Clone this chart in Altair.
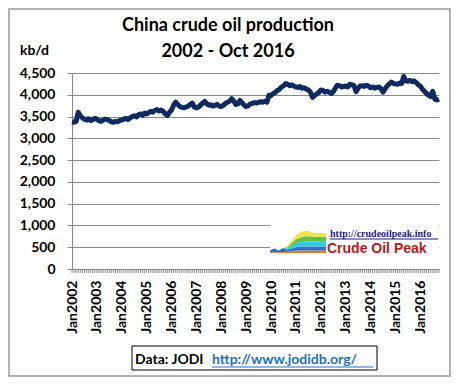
import altair as alt
import pandas as pd

# ---------------- data (kb/d, monthly) ----------------
p2002 = [3380, 3370, 3390, 3600, 3520, 3470, 3440, 3420, 3450, 3410, 3430, 3460]
p2003 = [3440, 3400, 3390, 3420, 3440, 3430, 3410, 3380, 3370, 3390, 3380, 3410]
p2004 = [3420, 3440, 3460, 3430, 3470, 3500, 3520, 3490, 3540, 3560, 3530, 3580]
p2005 = [3560, 3590, 3620, 3600, 3640, 3660, 3630, 3650, 3620, 3560, 3520, 3600]
p2006 = [3650, 3760, 3830, 3780, 3730, 3710, 3700, 3720, 3740, 3780, 3810, 3720]
p2007 = [3700, 3720, 3760, 3810, 3850, 3790, 3760, 3770, 3740, 3760, 3780, 3740]
p2008 = [3730, 3760, 3800, 3830, 3850, 3910, 3860, 3780, 3790, 3870, 3820, 3760]
p2009 = [3730, 3750, 3790, 3800, 3820, 3810, 3830, 3840, 3830, 3850, 3830, 3990]
p2010 = [3980, 4030, 4050, 4100, 4120, 4180, 4200, 4260, 4240, 4210, 4230, 4200]
p2011 = [4180, 4170, 4190, 4150, 4160, 4130, 4110, 4060, 3940, 3980, 4020, 4050]
p2012 = [4110, 4100, 4060, 4080, 4060, 4030, 4070, 4150, 4220, 4210, 4180, 4190]
p2013 = [4200, 4180, 4240, 4230, 4210, 4070, 4150, 4200, 4210, 4190, 4220, 4200]
p2014 = [4160, 4180, 4150, 4170, 4180, 4140, 4060, 4140, 4200, 4250, 4290, 4260]
p2015 = [4250, 4240, 4270, 4260, 4420, 4320, 4310, 4330, 4300, 4320, 4280, 4230]
p2016 = [4200, 4130, 4080, 4030, 3990, 3960, 4080, 3900, 3880, 3900]

first_year = 2002
y_ticks = [0, 500, 1000, 1500, 2000, 2500, 3000, 3500, 4000, 4500]

# small logo graphic (stacked bands, bottom to top)
logo_bands = ["orange", "blue", "cyan", "green", "yellow"]
logo_colors = ["#e07b22", "#2e6fcf", "#35c9e0", "#5cc24a", "#f2e640"]
logo_orange = [0.5, 0.5, 0.5, 0.8, 1.0, 1.5, 2.0, 2.0, 2.0, 2.0, 2.0, 2.0, 2.0, 2.0]
logo_blue = [1.5, 3.0, 1.5, 3.0, 1.5, 2.0, 2.5, 3.0, 3.0, 3.0, 3.0, 3.0, 3.0, 3.0]
logo_cyan = [0.0, 0.0, 0.0, 0.0, 1.0, 2.0, 3.0, 3.5, 4.0, 4.0, 4.0, 4.0, 4.0, 4.0]
logo_green = [0.0, 0.0, 0.0, 0.0, 1.0, 2.0, 3.0, 3.5, 4.0, 4.0, 3.5, 3.5, 3.5, 3.5]
logo_yellow = [0.0, 0.0, 0.0, 0.0, 1.0, 2.0, 3.0, 4.0, 4.0, 4.0, 3.0, 3.0, 3.0, 2.5]

# ---------------- frames ----------------
production = (p2002 + p2003 + p2004 + p2005 + p2006 + p2007 + p2008 + p2009 +
              p2010 + p2011 + p2012 + p2013 + p2014 + p2015 + p2016)
df = pd.DataFrame({"m": list(range(len(production))), "kbd": production})
last_m = len(production) - 1

logo_rows = []
for i, (name, arr) in enumerate(zip(logo_bands,
                                     [logo_orange, logo_blue, logo_cyan, logo_green, logo_yellow])):
    for j, v in enumerate(arr):
        logo_rows.append({"band": name, "ord": i, "i": j, "v": v})
logo_df = pd.DataFrame(logo_rows)

one = pd.DataFrame({"a": [0]})

W, H = 367, 196
FONT = "Lato"
GRID = "#8a8a8a"

xscale = alt.Scale(domain=[0, last_m], nice=False, zero=False)
yscale = alt.Scale(domain=[0, 4500], nice=False)

x_axis = alt.Axis(values=list(range(0, last_m + 1, 12)),
                  labelExpr=f"'Jan' + ({first_year} + datum.value / 12)",
                  labelAngle=270, labelAlign="right", labelBaseline="middle",
                  labelFont=FONT, labelFontSize=14, labelFontWeight="bold",
                  labelColor="#000000", labelPadding=11,
                  ticks=False, tickSize=0, grid=False, domainColor=GRID,
                  title=None, labelOverlap=False, labelBound=False, labelFlush=False)

line = alt.Chart(df).mark_line(color="#0f2a62", strokeWidth=5, strokeJoin="round").encode(
    x=alt.X("m:Q", scale=xscale, axis=x_axis),
    y=alt.Y("kbd:Q", scale=yscale,
            axis=alt.Axis(values=y_ticks, format=",d", grid=True, gridColor=GRID,
                          gridWidth=1, tickColor=GRID, tickSize=5, domainColor=GRID,
                          labelFont=FONT, labelFontSize=14, labelFontWeight="bold",
                          labelColor="#000000", labelPadding=12, title=None)),
)

month_ticks = alt.Chart(df).mark_rule(color=GRID, strokeWidth=1).encode(
    x=alt.X("m:Q", scale=xscale, axis=x_axis),
    y=alt.value(H),
    y2=alt.value(H + 4),
)

main = alt.layer(line, month_ticks)

border = alt.Chart(one).mark_rect(filled=False, stroke="#9a9a9a", strokeWidth=1.5).encode(
    x=alt.value(-63), x2=alt.value(378), y=alt.value(-64), y2=alt.value(303))

white = alt.Chart(one).mark_rect(color="white").encode(
    x=alt.value(198), x2=alt.value(367), y=alt.value(150), y2=alt.value(182))

logo = alt.Chart(logo_df).mark_area(strokeWidth=0).encode(
    x=alt.X("i:Q", scale=alt.Scale(domain=[0, 13], range=[198, 254], nice=False, zero=False), axis=None),
    y=alt.Y("v:Q", stack="zero", scale=alt.Scale(domain=[0, 17], range=[180, 158], nice=False), axis=None),
    color=alt.Color("band:N", scale=alt.Scale(domain=logo_bands, range=logo_colors), legend=None),
    order=alt.Order("ord:Q"),
)


def txt(s, x, y, size=14, color="#000000", font=FONT, align="left", weight="bold"):
    return alt.Chart(one).mark_text(text=s, font=font, fontSize=size, fontWeight=weight,
                                    color=color, align=align, baseline="alphabetic").encode(
        x=alt.value(x), y=alt.value(y))


title1 = txt("China crude oil production", 156, -42, size=18, align="center")
title2 = txt("2002 - Oct 2016", 156, -16, size=18, align="center")
unit = txt("kb/d", -52, -18, size=14)

logo_url = txt("http://crudeoilpeak.info", 258, 164, size=10, color="#1c1c8a",
               font="Liberation Serif")
logo_url_ul = alt.Chart(one).mark_rule(color="#1c1c8a", strokeWidth=1).encode(
    x=alt.value(258), x2=alt.value(366), y=alt.value(166))
logo_name = txt("Crude Oil Peak", 255, 180, size=14, color="#c0161c", font="Liberation Sans")

box = alt.Chart(one).mark_rect(filled=False, stroke="#000000", strokeWidth=1).encode(
    x=alt.value(60), x2=alt.value(305), y=alt.value(273), y2=alt.value(297))
src1 = txt("Data: JODI", 63, 291, size=14)
src2 = txt("http://www.jodidb.org/", 140, 291, size=14, color="#1f6fc0")
src2_ul = alt.Chart(one).mark_rule(color="#1f6fc0", strokeWidth=1).encode(
    x=alt.value(140), x2=alt.value(301), y=alt.value(294))

chart = alt.layer(
    border, white, main, logo, title1, title2, unit, logo_url, logo_url_ul, logo_name,
    box, src1, src2, src2_ul
).resolve_scale(x="independent", y="independent", color="independent").properties(
    width=W, height=H,
    autosize=alt.AutoSizeParams(type="none"),
    padding={"left": 64, "top": 65, "right": 12, "bottom": 108},
    background="white",
).configure_view(stroke=None).configure_axisX(labelOverlap=False)

chart.save("out.html", embed_options={"renderer": "svg", "actions": False})
